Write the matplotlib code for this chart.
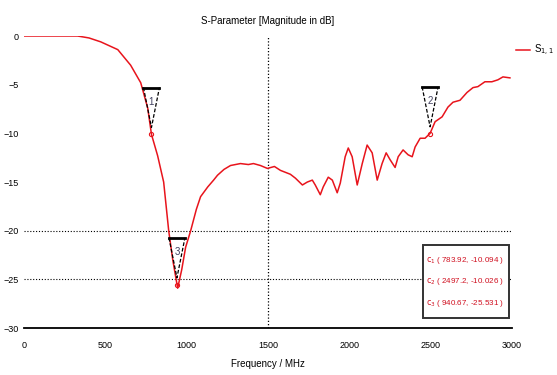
import matplotlib
matplotlib.use('Agg')
import matplotlib.pyplot as plt
from matplotlib.patches import Rectangle

plt.rcParams['font.family'] = ['Liberation Sans', 'DejaVu Sans']

# S11 curve
freq = [0, 200, 330, 400, 472, 577, 656, 718, 761, 784, 822, 859, 890, 915, 945,
	970, 994, 1025, 1060, 1086, 1130, 1166, 1190, 1230, 1270, 1331, 1380, 1411,
	1454, 1497, 1540, 1577, 1638, 1669, 1712, 1742, 1773, 1791, 1822, 1840, 1871,
	1896, 1926, 1945, 1975, 1994, 2018, 2049, 2080, 2110, 2141, 2172, 2202, 2227,
	2251, 2282, 2301, 2331, 2362, 2387, 2405, 2436, 2466, 2497, 2528, 2571, 2607,
	2638, 2681, 2724, 2761, 2791, 2834, 2877, 2914, 2945, 2988]
s11 = [0, 0, 0, -0.2, -0.6, -1.4, -3.0, -4.8, -7.4, -10.1, -12.3, -15, -20, -23, -25.9,
	-24, -21.7, -20, -17.8, -16.5, -15.5, -14.8, -14.3, -13.7, -13.3, -13.1, -13.2, -13.1,
	-13.3, -13.6, -13.4, -13.8, -14.2, -14.6, -15.3, -15, -14.8, -15.3, -16.3, -15.5, -14.5,
	-14.8, -16.1, -15.1, -12.4, -11.5, -12.4, -15.3, -13.1, -11.2, -12, -14.8, -13.1, -12,
	-12.7, -13.5, -12.4, -11.7, -12.2, -12.4, -11.4, -10.5, -10.5, -10.0, -8.8, -8.3, -7.3,
	-6.8, -6.6, -5.8, -5.3, -5.2, -4.7, -4.7, -4.5, -4.2, -4.3]

marker_names = ['1', '2', '3']
marker_f = [783.92, 2497.2, 940.67]
marker_db = [-10.094, -10.026, -25.531]
marker_txt = ['( 783.92, -10.094 )', '( 2497.2, -10.026 )', '( 940.67, -25.531 )']

xticks = [0, 500, 1000, 1500, 2000, 2500, 3000]
yticks = [0, -5, -10, -15, -20, -25, -30]

fig = plt.figure(figsize=(5.57, 3.75), dpi=100)
ax = fig.add_axes([0.043, 0.125, 0.876, 0.779])

ax.plot(freq, s11, '-', color='#e8141c', lw=1.1, label=r'S$_{1,1}$', zorder=3)
ax.plot(marker_f, marker_db, 'o', ms=3, mfc='none', mec='#e8141c', mew=0.8, zorder=4)

dot = (0, (1, 1.6))
for yv in [-20, -25]:
	ax.axhline(yv, color='black', lw=0.8, ls=dot, zorder=1)
ax.axvline(1500, color='black', lw=0.9, ls=dot, zorder=1)

# marker triangles above each marker point
for name, f, d in zip(marker_names, marker_f, marker_db):
	hw, top, tip = 49, 4.8, 0.7
	ax.plot([f - hw, f, f + hw], [d + top, d + tip, d + top], color='black', lw=0.9,
		ls=(0, (3, 1.5)), zorder=5)
	ax.plot([f - hw, f + hw], [d + top, d + top], color='black', lw=2, zorder=5)
	ax.text(f, d + top * 0.7, name, ha='center', va='center', fontsize=7,
		color='#404060', zorder=5)

# marker value box
ax.add_patch(Rectangle((0.818, 0.034), 0.176, 0.25, transform=ax.transAxes,
	facecolor='white', edgecolor='#333333', lw=1.4, zorder=6))
for i, (name, t) in enumerate(zip(marker_names, marker_txt)):
	ax.text(0.824, 0.232 - i * 0.074, r'$\mathrm{c}_{%s}$ %s' % (name, t),
		transform=ax.transAxes, fontsize=5.8, color='#d01020', va='center', zorder=7)

ax.set_xlim(0, 3000)
ax.set_ylim(-30, 0)
ax.set_xticks(xticks)
ax.set_yticks(yticks)
ax.tick_params(length=0, labelsize=6.5)
ax.tick_params(axis='x', pad=9)
ax.tick_params(axis='y', pad=4)
for s in ['top', 'right', 'left']:
	ax.spines[s].set_visible(False)
ax.spines['bottom'].set_linewidth(1.3)
ax.spines['bottom'].set_zorder(8)

ax.set_title('S-Parameter [Magnitude in dB]', fontsize=7, pad=9)
ax.set_xlabel('Frequency / MHz', fontsize=7, labelpad=7)

ax.legend(loc='upper left', bbox_to_anchor=(0.995, 1.0), frameon=False, fontsize=7,
	handlelength=1.4, handletextpad=0.4, borderaxespad=0.3)

fig.savefig('out.png', dpi=100)
